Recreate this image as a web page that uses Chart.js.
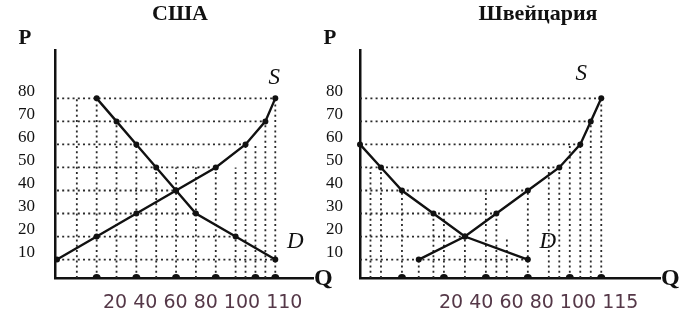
<!DOCTYPE html>
<html lang="ru">
<head>
<meta charset="utf-8">
<title>Спрос и предложение: США и Швейцария</title>
<script src="https://cdn.jsdelivr.net/npm/chart.js@4.4.1/dist/chart.umd.min.js"></script>
<style>
  html, body { margin: 0; padding: 0; background: #fff; }
  #wrap { position: relative; width: 688px; height: 322px; overflow: hidden; }
  #wrap canvas { position: absolute; top: 0; }
  #usa { left: 0; }
  #swiss { left: 300px; }
</style>
</head>
<body>
<div id="wrap">
  <canvas id="usa" width="340" height="322"></canvas>
  <canvas id="swiss" width="388" height="322"></canvas>
</div>
<script>
// цены на оси P (общие для обоих графиков)
const priceTicks = [10, 20, 30, 40, 50, 60, 70, 80];

// США
const usaDemandQ = [20, 30, 40, 50, 60, 70, 90, 110];
const usaDemandP = [80, 70, 60, 50, 40, 30, 20, 10];
const usaSupplyQ = [0, 20, 40, 60, 80, 95, 105, 110];
const usaSupplyP = [10, 20, 30, 40, 50, 60, 70, 80];
const usaQTicks = [20, 40, 60, 80, 100, 110];
// пунктирные вертикали: Q и цена, до которой линия поднимается
const usaGuideQ = [10, 20, 30, 40, 50, 60, 70, 80, 90, 95, 100, 105, 110];
const usaGuideTop = [80, 80, 70, 60, 50, 50, 50, 50, 50, 60, 60, 70, 80];

// Швейцария
const swDemandQ = [0, 10, 20, 35, 50, 80];
const swDemandP = [60, 50, 40, 30, 20, 10];
const swSupplyQ = [28, 50, 65, 80, 95, 105, 110, 115];
const swSupplyP = [10, 20, 30, 40, 50, 60, 70, 80];
const swQTicks = [20, 40, 60, 80, 100, 115];
const swGuideQ = [5, 10, 20, 28, 35, 40, 50, 60, 65, 70, 80, 90, 95, 100, 105, 110, 115];
const swGuideTop = [50, 50, 40, 10, 30, 30, 20, 40, 30, 20, 40, 50, 50, 60, 60, 70, 80];

const P_MIN = 2, P_MAX = 101;
const SERIF = '"Liberation Serif", "Times New Roman", serif';

function buildPanel(id, p) {
  const curve = (qs, ps) => qs.map((q, i) => ({ x: q, y: ps[i] }));
  const demand = curve(p.demandQ, p.demandP);
  const supply = curve(p.supplyQ, p.supplyP);
  const all = demand.concat(supply);

  // горизонтальные пунктиры идут от оси до самой правой точки на этом уровне цены
  const guides = priceTicks.map(price => {
    const right = Math.max(...all.filter(pt => pt.y === price).map(pt => pt.x));
    return [{ x: 0, y: price }, { x: right, y: price }];
  });
  p.guideQ.forEach((q, i) => guides.push([{ x: q, y: P_MIN }, { x: q, y: p.guideTop[i] }]));

  const guideSets = guides.map(pts => ({
    data: pts,
    showLine: true,
    borderColor: '#2a2a2a',
    borderWidth: 1.8,
    borderDash: [2, 3.2],
    pointRadius: 0,
    clip: false,
    order: 3
  }));

  const curveStyle = {
    showLine: true,
    borderColor: '#111',
    borderWidth: 2.4,
    pointRadius: 3,
    pointBackgroundColor: '#111',
    pointBorderWidth: 0,
    tension: 0,
    clip: false,
    order: 1
  };

  const sEnd = supply[supply.length - 1];
  const dEnd = demand[demand.length - 1];

  const textPlugin = {
    id: 'panelText',
    afterDraw(chart) {
      const { ctx, chartArea: a, scales: { x, y } } = chart;
      ctx.save();
      ctx.fillStyle = '#111';
      ctx.textBaseline = 'middle';
      ctx.textAlign = 'center';
      ctx.font = 'bold 22px ' + SERIF;
      ctx.fillText(p.title, p.titleX, 14);
      ctx.font = 'bold 21px ' + SERIF;
      ctx.fillText('P', a.left - 30, 39);
      ctx.font = 'italic 23px ' + SERIF;
      ctx.fillText('S', x.getPixelForValue(sEnd.x) + p.sDx, y.getPixelForValue(sEnd.y) + p.sDy);
      ctx.fillText('D', x.getPixelForValue(dEnd.x) + 20, y.getPixelForValue(dEnd.y) - 18);
      ctx.textAlign = 'left';
      ctx.font = 'bold 24px ' + SERIF;
      ctx.fillText('Q', a.right + 1, a.bottom + 1);
      // значения Q под осью одной строкой
      ctx.font = '19px "DejaVu Sans", Verdana, sans-serif';
      ctx.fillStyle = '#553848';
      ctx.fillText(p.qTicks.join(' '), p.qTextX, 303);
      ctx.restore();
    }
  };

  return new Chart(document.getElementById(id), {
    type: 'scatter',
    data: {
      datasets: [
        ...guideSets,
        { ...curveStyle, data: demand },
        { ...curveStyle, data: supply },
        {
          // метки на оси Q
          data: p.qTicks.map(q => ({ x: q, y: P_MIN })),
          showLine: false,
          pointRadius: 4,
          pointBackgroundColor: '#111',
          pointBorderWidth: 0,
          clip: 0,
          order: 0
        }
      ]
    },
    options: {
      responsive: false,
      animation: false,
      events: [],
      layout: { padding: p.padding },
      plugins: {
        legend: { display: false },
        tooltip: { enabled: false },
        title: { display: false }
      },
      scales: {
        x: {
          type: 'linear',
          min: p.qMin,
          max: p.qMax,
          ticks: { display: false },
          grid: { display: false, drawTicks: false },
          border: { display: true, color: '#111', width: 2.5 },
          afterFit: s => { s.height = 0; }
        },
        y: {
          type: 'linear',
          min: P_MIN,
          max: P_MAX,
          afterBuildTicks: s => { s.ticks = priceTicks.map(v => ({ value: v })); },
          ticks: {
            color: '#111',
            font: { family: SERIF, size: 17 },
            padding: p.tickPad,
            labelOffset: -7
          },
          grid: { display: false, drawTicks: false },
          border: { display: true, color: '#111', width: 2.5 },
          afterFit: s => { s.width = 40; }
        }
      }
    },
    plugins: [textPlugin]
  });
}

buildPanel('usa', {
  title: 'США', titleX: 180,
  demandQ: usaDemandQ, demandP: usaDemandP,
  supplyQ: usaSupplyQ, supplyP: usaSupplyP,
  qTicks: usaQTicks, guideQ: usaGuideQ, guideTop: usaGuideTop,
  qMin: -1, qMax: 129,
  padding: { left: 15, top: 50, right: 27, bottom: 44 },
  tickPad: 20, sDx: -1, sDy: -20, qTextX: 103
});

buildPanel('swiss', {
  title: 'Швейцария', titleX: 238,
  demandQ: swDemandQ, demandP: swDemandP,
  supplyQ: swSupplyQ, supplyP: swSupplyP,
  qTicks: swQTicks, guideQ: swGuideQ, guideTop: swGuideTop,
  qMin: 0, qMax: 143,
  padding: { left: 20, top: 50, right: 28, bottom: 44 },
  tickPad: 17, sDx: -20, sDy: -24, qTextX: 139
});
</script>
</body>
</html>
